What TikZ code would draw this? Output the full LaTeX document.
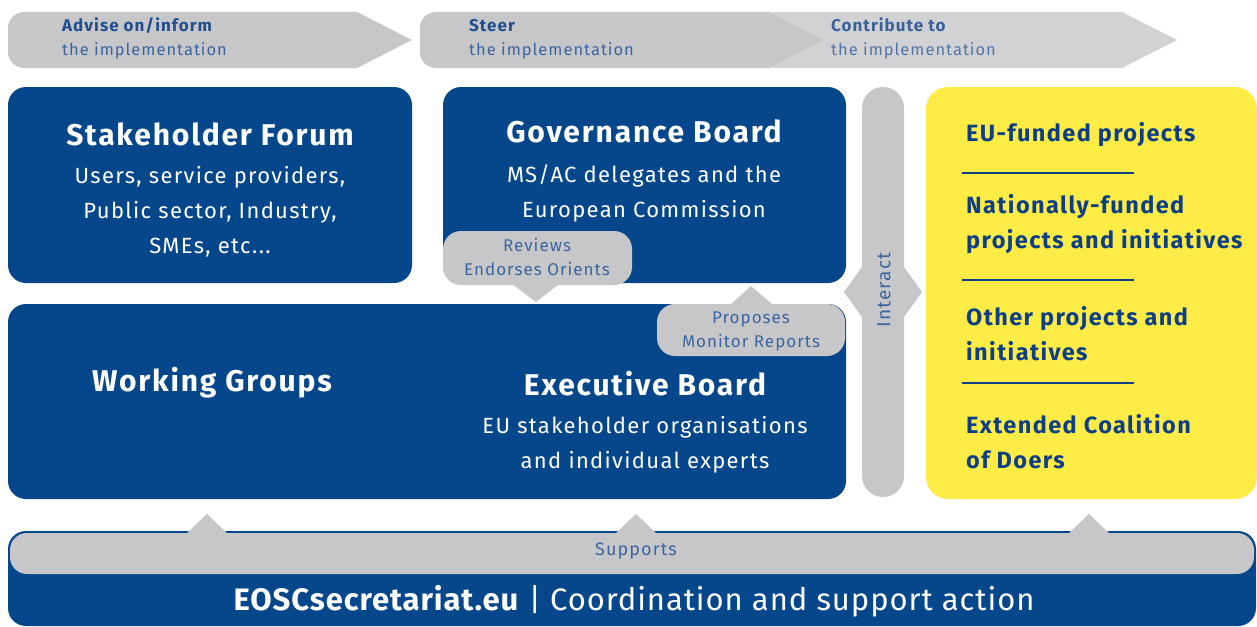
\documentclass[tikz,border=0pt]{standalone}
\usepackage{fontspec}
\setmainfont[LetterSpace=6]{Fira Sans}
\newfontfamily\barfont[LetterSpace=3]{Fira Sans}
\definecolor{eoscblue}{HTML}{05478A}
\definecolor{eoscgrey}{HTML}{C7C7CA}
\definecolor{phasegrey}{HTML}{D2D2D4}
\definecolor{eoscyellow}{HTML}{FCEC45}
\definecolor{tagblue}{HTML}{3A66A0}
\definecolor{phaseblue}{HTML}{1F4F8F}
\definecolor{doerblue}{HTML}{0E3F86}

\begin{document}
\begin{tikzpicture}[x=1pt,y=-1pt,
		bluebox/.style={fill=eoscblue,rounded corners=18pt},
		greybox/.style={fill=eoscgrey,rounded corners=18pt},
		heading/.style={text=white,font=\fontsize{30}{36}\selectfont\bfseries},
		members/.style={text=white,align=center,font=\fontsize{22}{35}\selectfont},
		tag/.style={text=tagblue,align=center,font=\fontsize{17}{24}\selectfont},
		doers/.style={text=doerblue,align=left,anchor=west,inner xsep=0pt,font=\fontsize{23.5}{35}\selectfont\bfseries},
		phase/.style={anchor=base west,inner xsep=0pt,text=tagblue,font=\fontsize{16.5}{24}\selectfont},
		phasetitle/.style={phase,text=phaseblue,font=\fontsize{17}{24}\selectfont\bfseries}]
	\clip (0,0) rectangle (1257,626);
	\fill[white] (0,0) rectangle (1257,626);

	% the three phases
	\fill[phasegrey] (772,12) -- (1122,12) -- (1177,40) -- (1122,68) -- (772,68) -- cycle;
	\fill[eoscgrey] (357,12) -- (412,40) -- (357,68) -- (24,68) arc[start angle=270,end angle=180,radius=16pt] -- (8,28) arc[start angle=180,end angle=90,radius=16pt] -- cycle;
	\fill[eoscgrey] (770,12) -- (822,40) -- (770,68) -- (436,68) arc[start angle=270,end angle=180,radius=16pt] -- (420,28) arc[start angle=180,end angle=90,radius=16pt] -- cycle;

	\node[phasetitle] (ADVISE) at (62,32) {Advise on/inform};
	\node[phase] (ADVISEIMPL) at (62,56) {the implementation};
	\node[phasetitle] (STEER) at (469,32) {Steer};
	\node[phase] (STEERIMPL) at (469,56) {the implementation};
	\node[phasetitle,opacity=0.85] (CONTRIB) at (831,32) {Contribute to};
	\node[phase,opacity=0.85] (CONTRIBIMPL) at (831,56) {the implementation};

	% bodies
	\fill[bluebox] (8,87) rectangle (412,283);
	\fill[bluebox] (443,87) rectangle (846,283);
	\fill[bluebox] (8,304) rectangle (846,499);

	\node[heading] (FORUM) at (210,134) {Stakeholder Forum};
	\node[members] (FORUMMEMBERS) at (210,212) {Users, service providers,\\Public sector, Industry,\\SMEs, etc...};
	\node[heading] (GOVBOARD) at (644,131) {Governance Board};
	\node[members] (GOVMEMBERS) at (644,193) {MS/AC delegates and the\\European Commission};
	\node[heading] (WORKGROUPS) at (212,383) {Working Groups};
	\node[heading] (EXECBOARD) at (645,384) {Executive Board};
	\node[members] (EXECMEMBERS) at (645,445) {EU stakeholder organisations\\and individual experts};

	% callouts between the boards
	\fill[greybox] (443,231) rectangle (632,285);
	\fill[eoscgrey] (512,284) -- (559,284) -- (536,302) -- cycle;
	\node[tag] (REVIEWS) at (537,257) {Reviews\\Endorses Orients};
	\fill[greybox] (657,304) rectangle (845,356);
	\fill[eoscgrey] (730,305) -- (773,305) -- (751,286) -- cycle;
	\node[tag] (PROPOSES) at (751,331) {Proposes\\Monitor Reports};

	% interact bar
	\fill[eoscgrey,rounded corners=21pt] (862,87) rectangle (904,497);
	\fill[eoscgrey] (862,267) -- (844,292) -- (862,317) -- cycle;
	\fill[eoscgrey] (904,267) -- (922,292) -- (904,317) -- cycle;
	\node[tag,rotate=90,font=\fontsize{19}{24}\selectfont] (INTERACT) at (884,290) {Interact};

	% coalition of doers
	\fill[eoscyellow,rounded corners=22pt] (926,87) rectangle (1257,499);
	\node[doers] (EUFUNDED) at (966,135) {EU-funded projects};
	\node[doers] (NATFUNDED) at (966,224) {Nationally-funded\\projects and initiatives};
	\node[doers] (OTHER) at (966,334) {Other projects and\\initiatives};
	\node[doers] (DOERS) at (966,442) {Extended Coalition\\of Doers};
	\draw[doerblue,line width=1.5pt] (962,173) -- (1134,173);
	\draw[doerblue,line width=1.5pt] (962,280) -- (1134,280);
	\draw[doerblue,line width=1.5pt] (962,383) -- (1134,383);

	% secretariat
	\fill[bluebox] (8,531) rectangle (1256,626);
	\fill[greybox,rounded corners=17pt] (10,533) rectangle (1254,574);
	\fill[eoscgrey] (187,533) -- (227,533) -- (207,514) -- cycle;
	\fill[eoscgrey] (616,533) -- (656,533) -- (636,514) -- cycle;
	\fill[eoscgrey] (1069,533) -- (1109,533) -- (1089,514) -- cycle;
	\node[tag,font=\fontsize{18}{24}\selectfont] (SUPPORTS) at (636,551) {Supports};
	\node[text=white,font=\barfont\fontsize{31}{36}\selectfont] (SECRETARIAT) at (634,601) {\textbf{EOSCsecretariat.eu} | Coordination and support action};
\end{tikzpicture}
\end{document}
